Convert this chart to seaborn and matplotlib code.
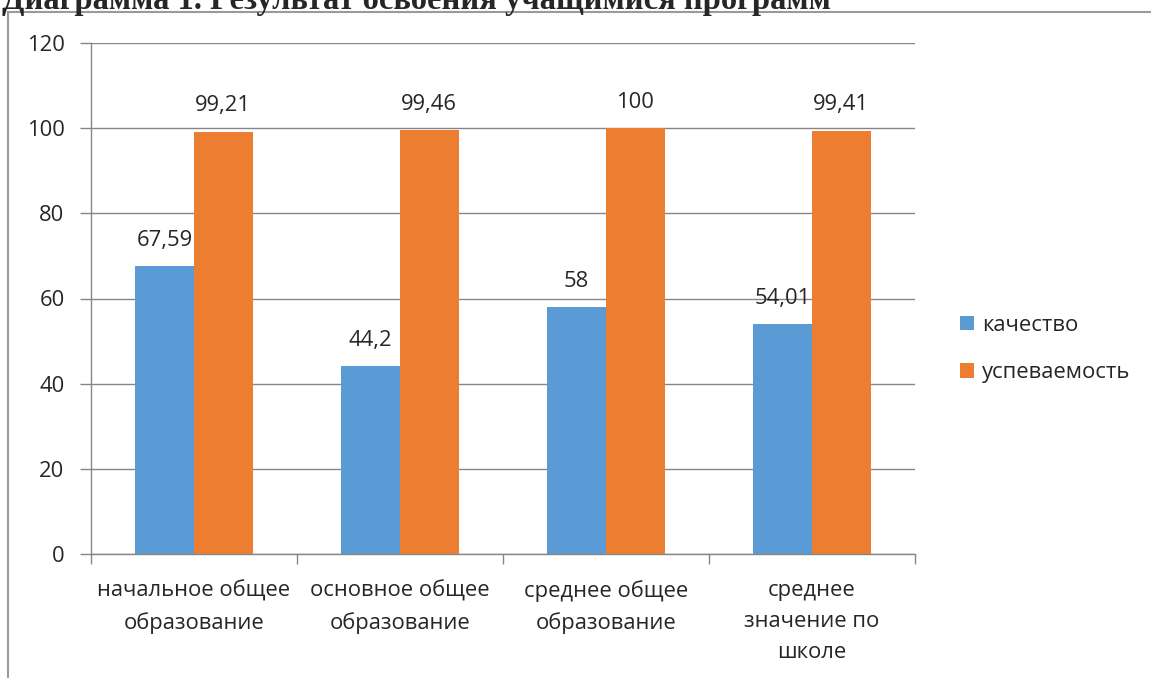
import matplotlib
matplotlib.use("Agg")
import matplotlib.pyplot as plt
import seaborn as sns
import pandas as pd
from matplotlib.patches import Rectangle

categories = ["начальное общее\nобразование", "основное общее\nобразование",
              "среднее общее\nобразование", "среднее\nзначение по\nшколе"]
quality = [67.59, 44.2, 58, 54.01]
progress = [99.21, 99.46, 100, 99.41]
quality_labels = ["67,59", "44,2", "58", "54,01"]
progress_labels = ["99,21", "99,46", "100", "99,41"]
series_names = ["качество", "успеваемость"]
colors = ["#5B9BD5", "#ED7D31"]
title = "Диаграмма 1. Результат освоения учащимися программ"

sns.set_theme(style="white")
plt.rcParams['font.family'] = ['Open Sans', 'DejaVu Sans']
FS = 15.8

df = pd.DataFrame({
    "cat": categories * 2,
    "val": quality + progress,
    "series": [series_names[0]] * 4 + [series_names[1]] * 4,
})

fig = plt.figure(figsize=(11.51, 6.78), dpi=100)
ax = fig.add_axes([91/1151, 1 - 554/678, (915-91)/1151, (554-43)/678])

sns.barplot(data=df, x="cat", y="val", hue="series", palette=colors,
            width=0.57, saturation=1, ax=ax, order=categories,
            hue_order=series_names, edgecolor="none")

ax.set_ylim(0, 120)
ax.set_xlim(-0.5, len(categories) - 0.5)
ax.set_yticks(range(0, 121, 20))
ax.yaxis.grid(True, color="#868686", linewidth=1.0)
ax.set_axisbelow(True)
for s in ["top", "right"]:
    ax.spines[s].set_visible(False)
for s in ["left", "bottom"]:
    ax.spines[s].set_color("#868686")
    ax.spines[s].set_linewidth(1.0)
ax.set_xlabel("")
ax.set_ylabel("")
ax.tick_params(axis="y", length=8, width=1, color="#868686", pad=11, labelsize=FS, left=True)
ax.tick_params(axis="x", which="major", length=0, pad=19, labelsize=FS)
ax.set_xticks([i - 0.5 for i in range(len(categories) + 1)], minor=True)
ax.tick_params(axis="x", which="minor", length=7, width=1, color="#868686", bottom=True)
for lab in ax.get_xticklabels():
    lab.set_linespacing(1.6)

for container, labels in zip(ax.containers, [quality_labels, progress_labels]):
    ax.bar_label(container, labels=labels, padding=11, fontsize=FS)

handles, labs = ax.get_legend_handles_labels()
ax.legend(handles, labs, loc="center left", bbox_to_anchor=(940/1151, 1 - 349/678),
          bbox_transform=fig.transFigure, frameon=False, fontsize=FS,
          handlelength=0.65, handleheight=0.65, handletextpad=0.35, labelspacing=1.2)

fig.patches.append(Rectangle((8/1151, -0.1), 1.2, 1.1 - 12.5/678, transform=fig.transFigure,
                             fill=False, edgecolor="#9a9a9a", linewidth=1.5))
fig.text(2/1151, 1 - 9/678, title, fontsize=23.5, fontweight="bold",
         family="Liberation Serif", va="baseline", ha="left")

fig.savefig("out.png", dpi=100)
